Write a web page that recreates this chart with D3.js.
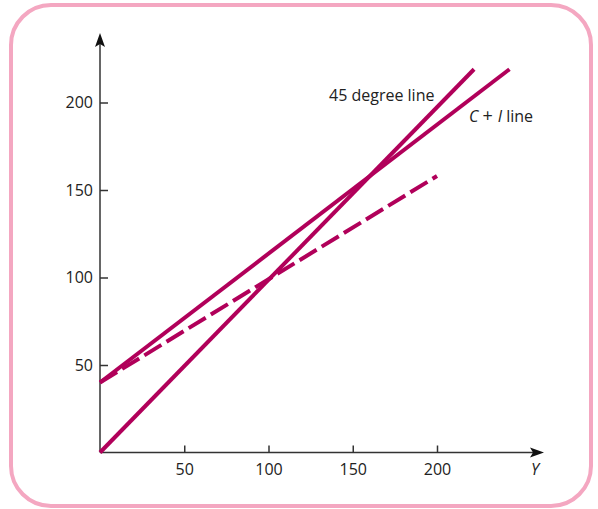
<!DOCTYPE html>
<html>
<head>
<meta charset="utf-8">
<script src="https://cdn.jsdelivr.net/npm/d3@7"></script>
<style>
  html, body { margin: 0; padding: 0; background: #fff; }
  svg { display: block; }
  text { font-family: "Open Sans", "Noto Sans", sans-serif; fill: #222; }
</style>
</head>
<body>
<svg id="chart" width="598" height="509"></svg>
<script>
// Data
const xTicks = [50, 100, 150, 200];
const yTicks = [50, 100, 150, 200];
const line45 = [{x: 0, y: 0}, {x: 222, y: 219}];
const lineCI = [{x: 0, y: 40}, {x: 243, y: 219}];
const lineDashed = [{x: 0, y: 40}, {x: 200, y: 158}];
const labels = ["45 degree line", "C + I line", "Y"];

const svg = d3.select("#chart");
const lineColor = "#b1005a";
const fontSize = 16;

// frame
svg.append("rect")
  .attr("x", 11).attr("y", 5).attr("width", 580).attr("height", 501)
  .attr("rx", 40).attr("ry", 40)
  .attr("fill", "none").attr("stroke", "#f4a7c1").attr("stroke-width", 4);

const x = d3.scaleLinear().domain([0, 200]).range([100, 437]);
const y = d3.scaleLinear().domain([0, 200]).range([452.5, 102.5]);

// axes lines with arrows
const axisColor = "#333";
svg.append("line").attr("x1", 100).attr("y1", 452.5).attr("x2", 100).attr("y2", 42)
  .attr("stroke", axisColor).attr("stroke-width", 1.5);
svg.append("path").attr("d", "M100,33 L95,47 L100,44 L105,47 Z").attr("fill", "#111");
svg.append("line").attr("x1", 100).attr("y1", 452.5).attr("x2", 535).attr("y2", 452.5)
  .attr("stroke", axisColor).attr("stroke-width", 1.5);
svg.append("path").attr("d", "M544,452.5 L530,447.5 L533,452.5 L530,457.5 Z").attr("fill", "#111");

// ticks via d3 axes
const xAxis = svg.append("g").attr("transform", "translate(0,452.5)")
  .call(d3.axisBottom(x).tickValues(xTicks).tickSize(-7).tickPadding(12));
const yAxis = svg.append("g").attr("transform", "translate(100,0)")
  .call(d3.axisLeft(y).tickValues(yTicks).tickSize(-8).tickPadding(8));
[xAxis, yAxis].forEach(g => {
  g.select(".domain").remove();
  g.selectAll(".tick line").attr("stroke", axisColor).attr("stroke-width", 1.5);
  g.selectAll(".tick text").attr("font-size", fontSize).attr("fill", "#222")
    .style("font-family", '"Open Sans", "Noto Sans", sans-serif');
});
yAxis.selectAll(".tick text").attr("x", -7);
xAxis.selectAll(".tick text").attr("y", 11).attr("dy", "0.71em");

const lineGen = d3.line().x(d => x(d.x)).y(d => y(d.y));

svg.append("path").datum(line45).attr("d", lineGen)
  .attr("fill", "none").attr("stroke", lineColor).attr("stroke-width", 4);
svg.append("path").datum(lineCI).attr("d", lineGen)
  .attr("fill", "none").attr("stroke", lineColor).attr("stroke-width", 4);
svg.append("path").datum(lineDashed).attr("d", lineGen)
  .attr("fill", "none").attr("stroke", lineColor).attr("stroke-width", 4)
  .attr("stroke-dasharray", "20,6");

// labels
svg.append("text").attr("x", 329).attr("y", 101).attr("font-size", fontSize).text(labels[0]);
const t2 = svg.append("text").attr("x", 469).attr("y", 122).attr("font-size", fontSize);
t2.append("tspan").attr("font-style", "italic").text("C");
t2.append("tspan").attr("dx", 4).attr("font-size", 18).text("+");
t2.append("tspan").attr("dx", 5).attr("font-style", "italic").text("I");
t2.append("tspan").text(" line");
svg.append("text").attr("x", 531).attr("y", 475).attr("font-size", fontSize)
  .attr("font-style", "italic").text(labels[2]);
</script>
</body>
</html>
